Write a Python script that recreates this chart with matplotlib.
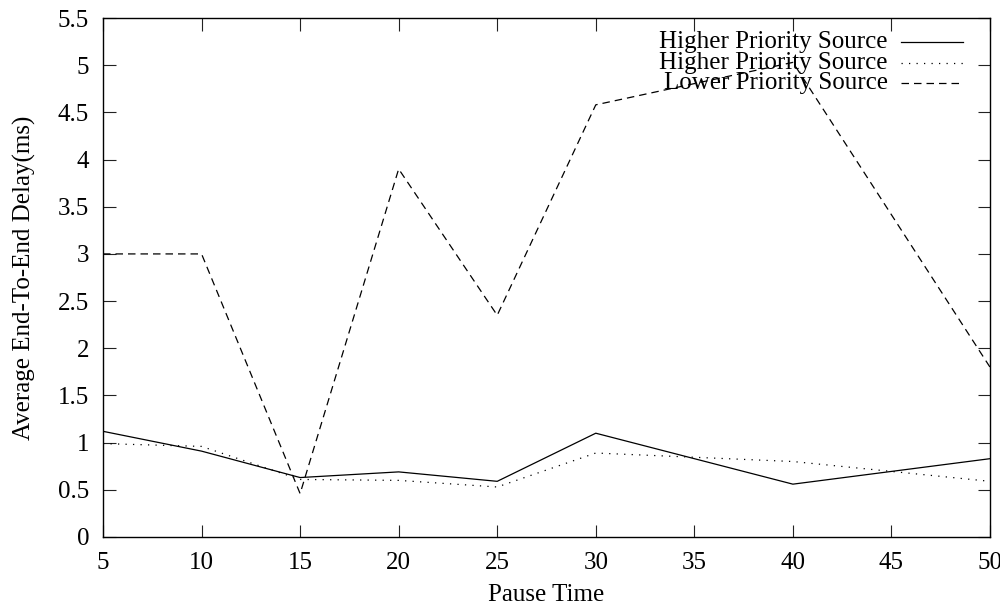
import matplotlib.pyplot as plt

# Data
pause_time = [5, 10, 15, 20, 25, 30, 40, 50]
high_1 = [1.12, 0.91, 0.63, 0.69, 0.59, 1.10, 0.56, 0.83]
high_2 = [0.99, 0.96, 0.61, 0.60, 0.53, 0.89, 0.80, 0.59]
low = [3.0, 3.0, 0.46, 3.90, 2.35, 4.58, 5.03, 1.80]

labels = ["Higher Priority Source", "Higher Priority Source", "Lower Priority Source"]
styles = ["-", (0, (1, 5)), (0, (6, 4))]

plt.rcParams["font.family"] = ["Liberation Serif", "DejaVu Serif"]

fig = plt.figure(figsize=(10, 6.05), dpi=100)
ax = fig.add_axes([0.103, 0.1124, 0.887, 0.8578])

for ys, ls in zip([high_1, high_2, low], styles):
    ax.plot(pause_time, ys, color="black", linestyle=ls, linewidth=0.9)

ax.set_xlim(5, 50)
ax.set_ylim(0, 5.5)
ax.set_xticks(range(5, 51, 5))
ax.set_yticks([i * 0.5 for i in range(12)])
ax.set_yticklabels(["0", "0.5", "1", "1.5", "2", "2.5", "3", "3.5", "4", "4.5", "5", "5.5"])
ax.tick_params(direction="in", length=9, width=0.8, top=True, right=True,
               labelsize=18, color="#222222")
ax.tick_params(axis="x", pad=11)
ax.tick_params(axis="y", pad=10)
for s in ax.spines.values():
    s.set_linewidth(1.0)

ax.set_xlabel("Pause Time", fontsize=18, labelpad=7)
ax.set_ylabel("Average End-To-End Delay(ms)", fontsize=18, labelpad=16)

# gnuplot style key: right-aligned text, sample line to the right
tx, x0, x1 = 0.885, 0.900, 0.970
rows = [0.954, 0.913, 0.875]
for lab, ls, ry in zip(labels, styles, rows):
    ax.text(tx, ry, lab, transform=ax.transAxes, ha="right", va="center", fontsize=18)
    ax.plot([x0, x1], [ry, ry], transform=ax.transAxes, color="black",
            linestyle=ls, linewidth=0.9, clip_on=False)

fig.savefig("out.png", dpi=100)
